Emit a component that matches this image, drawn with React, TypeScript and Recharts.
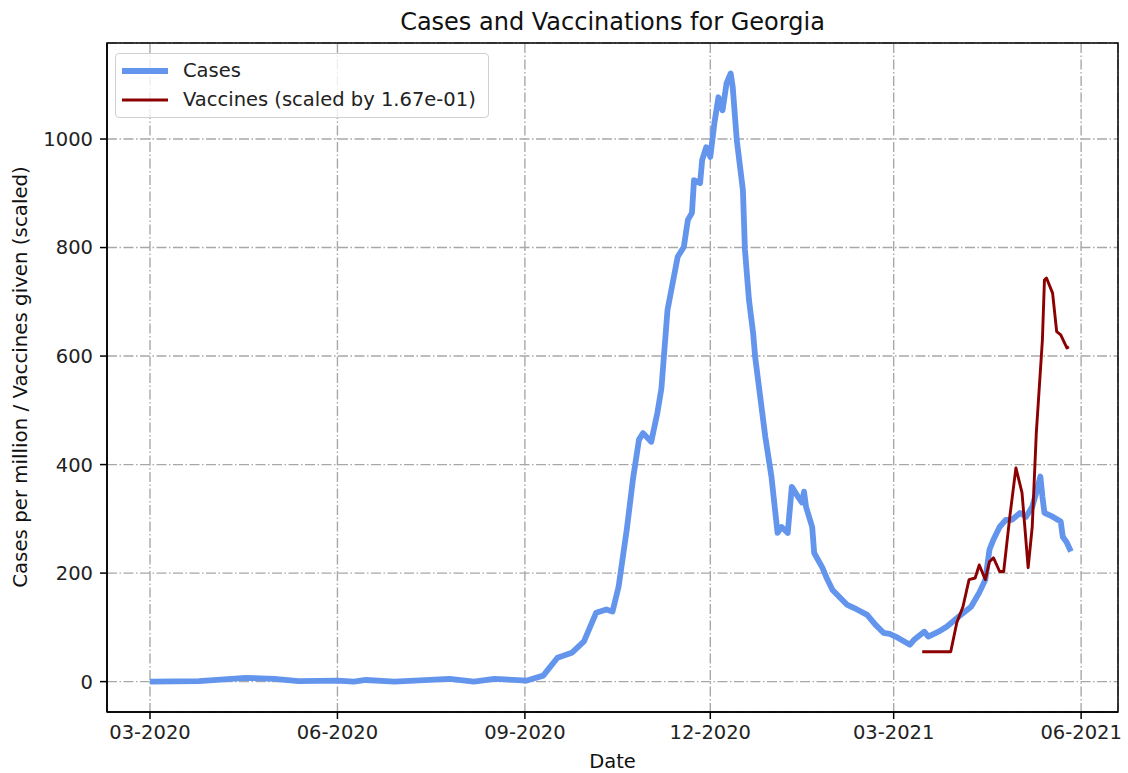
import { LineChart, Line, XAxis, YAxis, CartesianGrid, Legend, ReferenceArea } from 'recharts';

const caseDates = [
  '2020-03-01', '2020-03-25', '2020-04-17', '2020-05-01', '2020-05-13', '2020-06-01', '2020-06-09', '2020-06-15',
  '2020-06-29', '2020-07-26', '2020-08-07', '2020-08-17', '2020-09-02', '2020-09-10', '2020-09-17', '2020-09-24',
  '2020-09-30', '2020-10-06', '2020-10-11', '2020-10-14', '2020-10-17', '2020-10-21', '2020-10-24', '2020-10-27',
  '2020-10-29', '2020-11-02', '2020-11-05', '2020-11-07', '2020-11-10', '2020-11-15', '2020-11-18', '2020-11-20',
  '2020-11-22', '2020-11-23', '2020-11-26', '2020-11-27', '2020-11-29', '2020-12-01', '2020-12-03', '2020-12-05',
  '2020-12-07', '2020-12-09', '2020-12-11', '2020-12-12', '2020-12-14', '2020-12-17', '2020-12-18', '2020-12-20',
  '2020-12-22', '2020-12-23', '2020-12-26', '2020-12-28', '2020-12-31', '2021-01-03', '2021-01-05', '2021-01-08',
  '2021-01-10', '2021-01-13', '2021-01-15', '2021-01-16', '2021-01-17', '2021-01-20', '2021-01-21', '2021-01-25',
  '2021-01-27', '2021-01-30', '2021-02-06', '2021-02-11', '2021-02-16', '2021-02-20', '2021-02-24', '2021-02-27',
  '2021-03-03', '2021-03-09', '2021-03-11', '2021-03-16', '2021-03-18', '2021-03-23', '2021-03-27', '2021-04-02',
  '2021-04-08', '2021-04-12', '2021-04-15', '2021-04-17', '2021-04-19', '2021-04-22', '2021-04-25', '2021-04-28',
  '2021-05-02', '2021-05-05', '2021-05-08', '2021-05-10', '2021-05-12', '2021-05-13', '2021-05-14', '2021-05-18',
  '2021-05-22', '2021-05-23', '2021-05-25', '2021-05-27',
];
const caseValues = [
  0, 1, 7, 5, 1, 2, 0, 3,
  0, 5, 0, 5, 2, 11, 44, 53,
  74, 127, 133, 129, 175, 280, 372, 446,
  458, 442, 495, 540, 685, 783, 801, 851,
  864, 924, 919, 961, 985, 967, 1029, 1077,
  1053, 1103, 1121, 1096, 998, 906, 796, 703,
  643, 599, 510, 451, 378, 274, 285, 274,
  359, 341, 330, 350, 322, 285, 237, 210,
  192, 169, 142, 133, 123, 105, 90, 88,
  81, 68, 77, 92, 83, 92, 101, 120,
  138, 164, 188, 243, 262, 285, 298, 298,
  311, 304, 322, 348, 378, 341, 311, 304,
  295, 267, 256, 240,
];

const vaccineDates = [
  '2021-03-15', '2021-03-29', '2021-04-01', '2021-04-04', '2021-04-07', '2021-04-10', '2021-04-12', '2021-04-15',
  '2021-04-17', '2021-04-19', '2021-04-22', '2021-04-24', '2021-04-27', '2021-04-30', '2021-05-03', '2021-05-06',
  '2021-05-08', '2021-05-10', '2021-05-13', '2021-05-14', '2021-05-15', '2021-05-18', '2021-05-20', '2021-05-22',
  '2021-05-25', '2021-05-26',
];
const vaccineValues = [
  55, 55, 109, 138, 188, 191, 215, 188,
  221, 228, 203, 203, 304, 394, 348, 210,
  285, 458, 630, 740, 744, 716, 645, 639,
  615, 617,
];

const xTickDates = ['2020-03-01', '2020-06-01', '2020-09-01', '2020-12-01', '2021-03-01', '2021-06-01'];
const yTicks = [0, 200, 400, 600, 800, 1000];

const DAY = 86400000;
const start = Date.parse('2020-03-01');
const xDomain = [start - 21.1 * DAY, start + 475.1 * DAY];
const yDomain = [-56, 1177];

const casesData = caseDates.map((d, i) => ({ t: Date.parse(d), v: caseValues[i] }));
const vaccineData = vaccineDates.map((d, i) => ({ t: Date.parse(d), v: vaccineValues[i] }));
const xTicks = xTickDates.map((d) => Date.parse(d));

const font = 'DejaVu Sans, sans-serif';
const fmtDate = (t: number) => {
  const d = new Date(t);
  return `${String(d.getUTCMonth() + 1).padStart(2, '0')}-${d.getUTCFullYear()}`;
};

const LegendBox = () => (
  <div
    style={{
      border: '1px solid #d0d0d0',
      borderRadius: 4,
      background: 'rgba(255,255,255,0.8)',
      padding: '2px 12px 3px 5px',
      fontFamily: font,
      fontSize: 19.5,
      color: '#222',
      lineHeight: '29px',
    }}
  >
    <div style={{ display: 'flex', alignItems: 'center' }}>
      <svg width={48} height={10} style={{ marginRight: 14 }}>
        <line x1={1} y1={5} x2={47} y2={5} stroke="#6495ED" strokeWidth={5.8} />
      </svg>
      Cases
    </div>
    <div style={{ display: 'flex', alignItems: 'center' }}>
      <svg width={48} height={10} style={{ marginRight: 14 }}>
        <line x1={1} y1={5} x2={47} y2={5} stroke="#8B0000" strokeWidth={2.9} />
      </svg>
      Vaccines (scaled by 1.67e-01)
    </div>
  </div>
);

export default function App() {
  return (
    <div style={{ position: 'absolute', left: 0, top: 0, width: 1128, height: 773, background: '#fff' }}>
      <div
        style={{
          position: 'absolute', left: 107, width: 1011, top: 9, textAlign: 'center',
          fontFamily: font, fontSize: 24, lineHeight: '26px', color: '#111',
        }}
      >
        Cases and Vaccinations for Georgia
      </div>
      <div
        style={{
          position: 'absolute', left: 20, top: 377, transform: 'translate(-50%, -50%) rotate(-90deg)',
          whiteSpace: 'nowrap', fontFamily: font, fontSize: 19.8, color: '#111',
        }}
      >
        Cases per million / Vaccines given (scaled)
      </div>
      <div
        style={{
          position: 'absolute', left: 107, width: 1011, top: 750, textAlign: 'center',
          fontFamily: font, fontSize: 19.5, lineHeight: '24px', color: '#111',
        }}
      >
        Date
      </div>
      <LineChart width={1128} height={773} margin={{ top: 43, right: 10, bottom: 0, left: 0 }}>
        <CartesianGrid stroke="#a8a8a8" strokeWidth={1.4} strokeDasharray="10 2.5 1.5 2.5" />
        <XAxis
          dataKey="t"
          type="number"
          domain={xDomain}
          ticks={xTicks}
          tickFormatter={fmtDate}
          allowDataOverflow
          height={61}
          tickSize={7}
          tickMargin={6}
          stroke="#000"
          strokeWidth={1.5}
          tick={{ fontSize: 19.5, fill: '#222', fontFamily: font }}
        />
        <YAxis
          type="number"
          domain={yDomain}
          ticks={yTicks}
          allowDataOverflow
          width={107}
          tickSize={7}
          tickMargin={7}
          stroke="#000"
          strokeWidth={1.5}
          tick={{ fontSize: 19.5, fill: '#222', fontFamily: font }}
        />
        <ReferenceArea x1={xDomain[0]} x2={xDomain[1]} y1={yDomain[0]} y2={yDomain[1]} fill="none" stroke="#000" strokeWidth={1.5} />
        <Line
          data={casesData}
          dataKey="v"
          name="Cases"
          type="linear"
          stroke="#6495ED"
          strokeWidth={5.8}
          strokeLinejoin="round"
          dot={false}
          isAnimationActive={false}
        />
        <Line
          data={vaccineData}
          dataKey="v"
          name="Vaccines (scaled by 1.67e-01)"
          type="linear"
          stroke="#8B0000"
          strokeWidth={2.9}
          strokeLinejoin="round"
          dot={false}
          isAnimationActive={false}
        />
        <Legend
          layout="horizontal"
          verticalAlign="middle"
          align="center"
          wrapperStyle={{ left: 115, top: 53, width: 'auto', height: 'auto' }}
          content={() => <LegendBox />}
        />
      </LineChart>
    </div>
  );
}
